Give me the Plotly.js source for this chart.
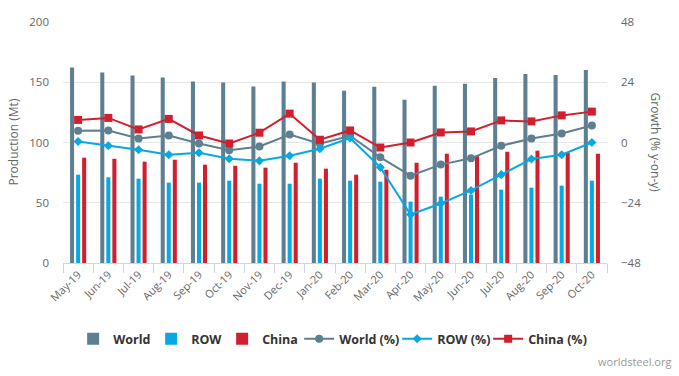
<!DOCTYPE html>
<html>
<head>
<meta charset="utf-8">
<script src="https://cdn.plot.ly/plotly-3.0.1.min.js"></script>
<style>html,body{margin:0;padding:0;background:#fff;}#chart{width:679px;height:376px;}</style>
</head>
<body>
<div id="chart"></div>
<script>
const months = ["May-19","Jun-19","Jul-19","Aug-19","Sep-19","Oct-19","Nov-19","Dec-19","Jan-20","Feb-20","Mar-20","Apr-20","May-20","Jun-20","Jul-20","Aug-20","Sep-20","Oct-20"];
const worldMt = [162.2,158.0,155.5,153.9,150.6,149.7,146.4,150.6,149.7,142.9,146.2,135.4,147.0,148.7,153.6,156.9,156.1,160.2];
const rowMt   = [73.3,71.1,70.0,66.7,66.7,68.3,65.8,65.8,70.0,68.3,67.5,50.9,55.1,56.7,60.9,62.5,64.2,68.3];
const chinaMt = [87.4,86.5,84.1,85.7,81.6,80.7,79.1,83.2,78.3,73.3,77.4,83.2,90.7,89.0,92.3,93.2,91.5,90.7];
const worldPct = [4.7,4.8,1.6,2.8,-0.4,-3.1,-1.6,3.2,-0.5,2.7,-5.9,-13.2,-8.8,-6.3,-1.3,1.6,3.6,6.8];
const rowPct   = [0.4,-1.3,-2.9,-4.9,-4.1,-6.5,-7.3,-5.3,-2.5,1.8,-9.9,-28.7,-24.3,-19.1,-12.8,-6.6,-4.9,0.0];
const chinaPct = [9.0,9.8,5.2,9.4,2.8,-0.4,3.9,11.5,1.1,4.8,-2.0,0.0,4.0,4.4,8.8,8.4,10.8,12.3];

const cWorld = "#5e7f90", cRow = "#08a8e2", cChina = "#d11f2e";
const fontFam = "Open Sans, sans-serif";

const traces = [
  {type:"bar", name:"World", x:months, y:worldMt, marker:{color:cWorld}, yaxis:"y", legendwidth:33},
  {type:"bar", name:"ROW", x:months, y:rowMt, marker:{color:cRow}, yaxis:"y", legendwidth:26},
  {type:"bar", name:"China", x:months, y:chinaMt, marker:{color:cChina}, yaxis:"y", legendwidth:32},
  {type:"scatter", mode:"lines+markers", name:"World (%)", x:months, y:worldPct, yaxis:"y2", legendwidth:53,
   line:{color:cWorld, width:2}, marker:{symbol:"circle", size:8, color:cWorld}},
  {type:"scatter", mode:"lines+markers", name:"ROW (%)", x:months, y:rowPct, yaxis:"y2", legendwidth:46,
   line:{color:cRow, width:2}, marker:{symbol:"diamond", size:7, color:cRow}},
  {type:"scatter", mode:"lines+markers", name:"China (%)", x:months, y:chinaPct, yaxis:"y2", legendwidth:55,
   line:{color:cChina, width:2}, marker:{symbol:"square", size:8, color:cChina}}
];

const layout = {
  width:679, height:376,
  margin:{l:63, r:72, t:22, b:112.5, pad:0},
  paper_bgcolor:"#fff", plot_bgcolor:"#fff",
  font:{family:fontFam, color:"#666", size:11.5},
  barmode:"group", bargap:0.4, bargroupgap:0.33,
  showlegend:true,
  legend:{orientation:"h", xref:"container", yref:"container", x:0.1077, y:0.098, xanchor:"left", yanchor:"middle",
          font:{family:fontFam, size:12.5, color:"#333", weight:"bold"}, traceorder:"normal"},
  xaxis:{type:"category", range:[-0.5, months.length - 0.5], autorange:false, automargin:false, tickangle:-45, tickson:"boundaries",
         ticks:"outside", ticklen:9, tickcolor:"#ccd6eb",
         showline:true, linecolor:"#ccd6eb", linewidth:1, showgrid:false, tickfont:{size:11, color:"#666"}, fixedrange:true},
  yaxis:{range:[0,200], automargin:false, dtick:50, showgrid:true, gridcolor:"#e6e6e6", zeroline:false, ticks:"", ticklabelstandoff:13,
         tickfont:{size:11.5, color:"#666"}},
  yaxis2:{overlaying:"y", automargin:false, side:"right", range:[-48,48], dtick:24, showgrid:false, zeroline:false, ticks:"", ticklabelstandoff:13,
          tickfont:{size:11.5, color:"#666"}},
  annotations:[
    {text:"Production (Mt)", xref:"paper", yref:"paper", x:0, y:0.5, xshift:-50, textangle:-90, showarrow:false,
     xanchor:"center", yanchor:"middle", font:{size:12, color:"#666"}},
    {text:"Growth (% y-on-y)", xref:"paper", yref:"paper", x:1, y:0.5, xshift:48, textangle:90, showarrow:false,
     xanchor:"center", yanchor:"middle", font:{size:12, color:"#666"}},
    {text:"worldsteel.org", xref:"paper", yref:"paper", x:1, y:0, xshift:66, yshift:-98.5, showarrow:false,
     xanchor:"right", yanchor:"middle", font:{size:11, color:"#999"}}
  ]
};

Plotly.newPlot("chart", traces, layout, {displayModeBar:false, staticPlot:true});
</script>
</body>
</html>
